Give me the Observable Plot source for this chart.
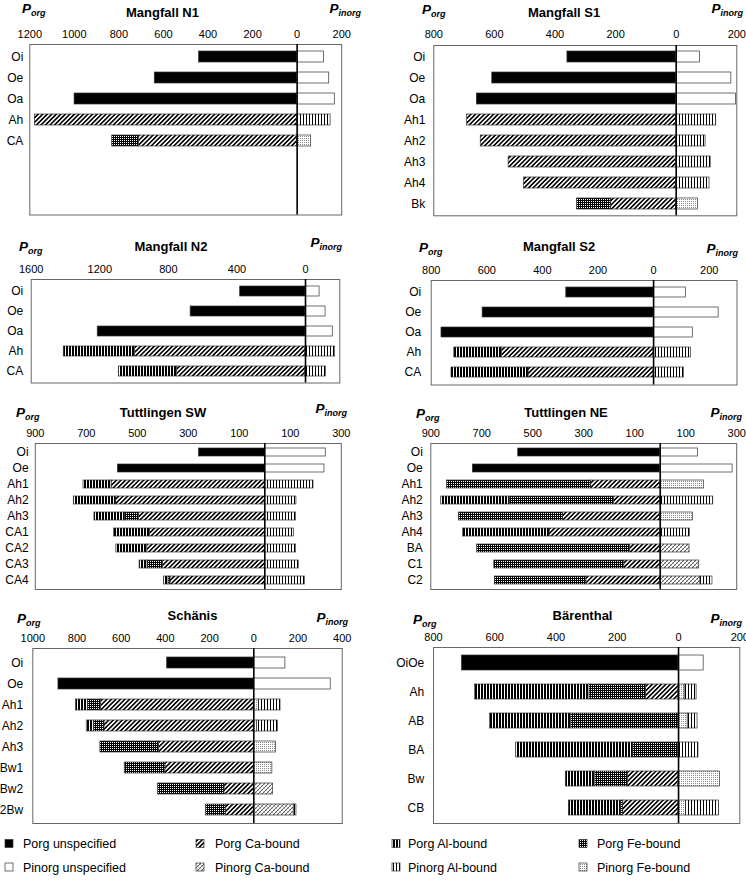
<!DOCTYPE html>
<html><head><meta charset="utf-8">
<script src="https://cdn.jsdelivr.net/npm/d3@7"></script>
<script src="https://cdn.jsdelivr.net/npm/@observablehq/plot@0.6"></script>
<style>
html,body{margin:0;padding:0;background:#fff;}
#page{position:relative;width:746px;height:883px;overflow:hidden;font-family:"Liberation Sans",Arial,sans-serif;}
#page svg{position:absolute;}
#page g[aria-label^="x-axis"] text{font-size:11px;}
#page g[aria-label^="y-axis"] text{font-size:12px;}
</style></head><body><div id="page"></div>
<script>
// ---------------- DATA ----------------
// Mangfall N1
const n1Horizons = ["Oi","Oe","Oa","Ah","CA"];
const n1Ticks = [-1200,-1000,-800,-600,-400,-200,0,200];
const n1PorgUnspecified = [440,639,999,0,0];
const n1PorgCa = [0,0,0,1177,711];
const n1PorgFe = [0,0,0,0,119];
const n1PorgAl = [0,0,0,0,0];
const n1PinorgUnspecified = [120,144,169,0,0];
const n1PinorgCa = [0,0,0,0,0];
const n1PinorgFe = [0,0,0,0,63];
const n1PinorgAl = [0,0,0,150,0];

// Mangfall S1
const s1Horizons = ["Oi","Oe","Oa","Ah1","Ah2","Ah3","Ah4","Bk"];
const s1Ticks = [-800,-600,-400,-200,0,200];
const s1PorgUnspecified = [359,607,658,0,0,0,0,0];
const s1PorgCa = [0,0,0,690,645,553,502,215];
const s1PorgFe = [0,0,0,0,0,0,0,112];
const s1PorgAl = [0,0,0,0,0,0,0,0];
const s1PinorgUnspecified = [79,182,197,0,0,0,0,0];
const s1PinorgCa = [0,0,0,0,0,0,0,0];
const s1PinorgFe = [0,0,0,0,0,0,0,72];
const s1PinorgAl = [0,0,0,132,97,114,110,0];

// Mangfall N2
const n2Horizons = ["Oi","Oe","Oa","Ah","CA"];
const n2Ticks = [-1600,-1200,-800,-400,0];
const n2PorgUnspecified = [381,670,1212,0,0];
const n2PorgCa = [0,0,0,994,750];
const n2PorgFe = [0,0,0,0,0];
const n2PorgAl = [0,0,0,416,339];
const n2PinorgUnspecified = [82,117,159,0,0];
const n2PinorgCa = [0,0,0,0,0];
const n2PinorgFe = [0,0,0,0,0];
const n2PinorgAl = [0,0,0,173,120];

// Mangfall S2
const s2Horizons = ["Oi","Oe","Oa","Ah","CA"];
const s2Ticks = [-800,-600,-400,-200,0,200];
const s2PorgUnspecified = [314,615,763,0,0];
const s2PorgCa = [0,0,0,546,450];
const s2PorgFe = [0,0,0,0,0];
const s2PorgAl = [0,0,0,171,277];
const s2PinorgUnspecified = [116,234,141,0,0];
const s2PinorgCa = [0,0,0,0,0];
const s2PinorgFe = [0,0,0,0,0];
const s2PinorgAl = [0,0,0,135,109];

// Tuttlingen SW
const swHorizons = ["Oi","Oe","Ah1","Ah2","Ah3","CA1","CA2","CA3","CA4"];
const swTicks = [-900,-700,-500,-300,-100,100,300];
const swPorgUnspecified = [258,576,0,0,0,0,0,0,0];
const swPorgCa = [0,0,601,583,493,451,461,400,370];
const swPorgFe = [0,0,0,0,56,0,0,60,8];
const swPorgAl = [0,0,110,166,119,141,121,31,17];
const swPinorgUnspecified = [239,234,0,0,0,0,0,0,0];
const swPinorgCa = [0,0,0,0,0,0,0,0,0];
const swPinorgFe = [0,0,0,0,0,0,0,0,0];
const swPinorgAl = [0,0,191,124,122,115,123,133,157];

// Tuttlingen NE
const neHorizons = ["Oi","Oe","Ah1","Ah2","Ah3","Ah4","BA","C1","C2"];
const neTicks = [-900,-700,-500,-300,-100,100,300];
const nePorgUnspecified = [557,735,0,0,0,0,0,0,0];
const nePorgCa = [0,0,271,181,382,434,118,141,290];
const nePorgFe = [0,0,565,410,408,0,600,510,359];
const nePorgAl = [0,0,0,268,0,340,0,0,0];
const nePinorgUnspecified = [148,284,0,0,0,0,0,0,0];
const nePinorgCa = [0,0,0,0,0,0,115,153,158];
const nePinorgFe = [0,0,171,0,128,0,0,0,0];
const nePinorgAl = [0,0,0,208,0,116,0,0,47];

// Schänis
const scHorizons = ["Oi","Oe","Ah1","Ah2","Ah3","Bw1","Bw2","2Bw"];
const scTicks = [-1000,-800,-600,-400,-200,0,200,400];
const scPorgUnspecified = [392,884,0,0,0,0,0,0];
const scPorgCa = [0,0,691,676,430,400,133,127];
const scPorgFe = [0,0,60,48,264,184,300,89];
const scPorgAl = [0,0,53,32,0,0,0,0];
const scPinorgUnspecified = [143,348,0,0,0,0,0,0];
const scPinorgCa = [0,0,0,0,0,0,87,181];
const scPinorgFe = [0,0,23,15,100,84,0,0];
const scPinorgAl = [0,0,98,95,0,0,0,12];

// Bärenthal
const baHorizons = ["OiOe","Ah","AB","BA","Bw","CB"];
const baTicks = [-800,-600,-400,-200,0,200];
const baPorgUnspecified = [707,0,0,0,0,0];
const baPorgCa = [0,106,0,0,166,182];
const baPorgFe = [0,185,351,148,106,6];
const baPorgAl = [0,374,265,382,96,170];
const baPinorgUnspecified = [82,0,0,0,0,0];
const baPinorgCa = [0,0,0,0,0,0];
const baPinorgFe = [0,20,30,0,135,24];
const baPinorgAl = [0,39,32,65,0,108];

const legendLabels = [
  ["Porg unspecified","Porg Ca-bound","Porg Al-bound","Porg Fe-bound"],
  ["Pinorg unspecified","Pinorg Ca-bound","Pinorg Al-bound","Pinorg Fe-bound"]
];

// ---------------- STYLE / LAYOUT ----------------
const FILLS = {
  PorgUnspecified: "black", PorgCa: "url(#pCa)", PorgFe: "url(#pFe)", PorgAl: "url(#pAl)",
  PinorgUnspecified: "white", PinorgCa: "url(#iCa)", PinorgFe: "url(#iFe)", PinorgAl: "url(#iAl)"
};
const COMPONENTS = [
  ["PorgUnspecified",-1],["PorgCa",-1],["PorgFe",-1],["PorgAl",-1],
  ["PinorgUnspecified",1],["PinorgCa",1],["PinorgFe",1],["PinorgAl",1]
];
const legendFills = [
  [FILLS.PorgUnspecified, FILLS.PorgCa, FILLS.PorgAl, FILLS.PorgFe],
  [FILLS.PinorgUnspecified, FILLS.PinorgCa, FILLS.PinorgAl, FILLS.PinorgFe]
];

function vals(p){ return {
  PorgUnspecified: p[0], PorgCa: p[1], PorgFe: p[2], PorgAl: p[3],
  PinorgUnspecified: p[4], PinorgCa: p[5], PinorgFe: p[6], PinorgAl: p[7] }; }

const panels = [
  {title:"Mangfall N1", horizons:n1Horizons, ticks:n1Ticks, domain:[-1200,200], slots:8,
   values: vals([n1PorgUnspecified,n1PorgCa,n1PorgFe,n1PorgAl,n1PinorgUnspecified,n1PinorgCa,n1PinorgFe,n1PinorgAl]),
   L:{svgLeft:0,x0:29.3,x1:341.2,y0:44.3,y1:214.8,yPad:6.5}, H:{px:22,py:13.3,ix:361,iy:13.3,tx:162.5,ty:16.7}},
  {title:"Mangfall S1", horizons:s1Horizons, ticks:s1Ticks, domain:[-800,200], slots:8,
   values: vals([s1PorgUnspecified,s1PorgCa,s1PorgFe,s1PorgAl,s1PinorgUnspecified,s1PinorgCa,s1PinorgFe,s1PinorgAl]),
   L:{svgLeft:373,x0:433.3,x1:736.3,y0:44.5,y1:214.8,yPad:8.5}, H:{px:422,py:14,ix:743,iy:13.3,tx:564,ty:17.3}},
  {title:"Mangfall N2", horizons:n2Horizons, ticks:n2Ticks, domain:[-1600,200], slots:5,
   values: vals([n2PorgUnspecified,n2PorgCa,n2PorgFe,n2PorgAl,n2PinorgUnspecified,n2PinorgCa,n2PinorgFe,n2PinorgAl]),
   L:{svgLeft:0,x0:30.7,x1:339.3,y0:278.5,y1:382,yPad:8}, H:{px:19,py:250.7,ix:342,iy:246.7,tx:171,ty:250.7}},
  {title:"Mangfall S2", horizons:s2Horizons, ticks:s2Ticks, domain:[-800,300], slots:5,
   values: vals([s2PorgUnspecified,s2PorgCa,s2PorgFe,s2PorgAl,s2PinorgUnspecified,s2PinorgCa,s2PinorgFe,s2PinorgAl]),
   L:{svgLeft:373,x0:430.7,x1:736.5,y0:279.5,y1:384,yPad:10}, H:{px:419,py:251.7,ix:738,iy:252.7,tx:559,ty:250.7}},
  {title:"Tuttlingen SW", horizons:swHorizons, ticks:swTicks, domain:[-900,300], slots:9,
   values: vals([swPorgUnspecified,swPorgCa,swPorgFe,swPorgAl,swPinorgUnspecified,swPinorgCa,swPinorgFe,swPinorgAl]),
   L:{svgLeft:0,x0:34.8,x1:340.8,y0:443,y1:589,yPad:6.7}, H:{px:16,py:416.7,ix:347,iy:413.3,tx:163,ty:416.7}},
  {title:"Tuttlingen NE", horizons:neHorizons, ticks:neTicks, domain:[-900,300], slots:9,
   values: vals([nePorgUnspecified,nePorgCa,nePorgFe,nePorgAl,nePinorgUnspecified,nePinorgCa,nePinorgFe,nePinorgAl]),
   L:{svgLeft:373,x0:430.3,x1:736.2,y0:443,y1:589,yPad:8}, H:{px:416,py:417.7,ix:742,iy:416.7,tx:566,ty:416.7}},
  {title:"Schänis", horizons:scHorizons, ticks:scTicks, domain:[-1000,400], slots:8,
   values: vals([scPorgUnspecified,scPorgCa,scPorgFe,scPorgAl,scPinorgUnspecified,scPinorgCa,scPinorgFe,scPinorgAl]),
   L:{svgLeft:0,x0:32.3,x1:341.7,y0:647.7,y1:822.7,yPad:9.6}, H:{px:17,py:623.3,ix:348,iy:621.7,tx:192.5,ty:620}},
  {title:"Bärenthal", horizons:baHorizons, ticks:baTicks, domain:[-800,200], slots:6,
   values: vals([baPorgUnspecified,baPorgCa,baPorgFe,baPorgAl,baPinorgUnspecified,baPinorgCa,baPinorgFe,baPinorgAl]),
   L:{svgLeft:373,x0:433,x1:739.3,y0:647,y1:823,yPad:9.3}, H:{px:413,py:624,ix:742,iy:623.3,tx:582.5,ty:620}}
];

// ---------------- OVERLAY (patterns, headers, legend) ----------------
const page = document.getElementById("page");
const overlay = d3.select(page).append("svg")
  .attr("width",746).attr("height",883).style("left","0px").style("top","0px")
  .attr("font-family",'"Liberation Sans",Arial,sans-serif');
const defs = overlay.append("defs");
function pat(id,w,h,tr){ const p = defs.append("pattern").attr("id",id)
  .attr("patternUnits","userSpaceOnUse").attr("width",w).attr("height",h);
  if (tr) p.attr("patternTransform",tr); return p; }
let p;
p = pat("pCa",3.2,3.2,"rotate(45)");
p.append("rect").attr("width",3.2).attr("height",3.2).attr("fill","white");
p.append("rect").attr("width",1.6).attr("height",3.2).attr("fill","black");
p = pat("pAl",3,3);
p.append("rect").attr("width",3).attr("height",3).attr("fill","white");
p.append("rect").attr("width",2).attr("height",3).attr("fill","black");
p = pat("pFe",2,2);
p.append("rect").attr("width",2).attr("height",2).attr("fill","black");
p.append("rect").attr("width",1).attr("height",1).attr("fill","white");
p = pat("iCa",4,4);
p.append("rect").attr("width",4).attr("height",4).attr("fill","white");
p.append("path").attr("d","M0,4L4,0M-1,1L1,-1M3,5L5,3").attr("stroke","#333").attr("stroke-width",0.8);
p.append("path").attr("d","M0,0L4,4M-1,3L1,5M3,-1L5,1").attr("stroke","#999").attr("stroke-width",0.6);
p = pat("iAl",3,3);
p.append("rect").attr("width",3).attr("height",3).attr("fill","white");
p.append("rect").attr("width",1).attr("height",3).attr("fill","black");
p = pat("iFe",2,2);
p.append("rect").attr("width",2).attr("height",2).attr("fill","white");
p.append("rect").attr("width",1).attr("height",1).attr("fill","#888");

for (const P of panels) {
  const H = P.H;
  const t1 = overlay.append("text").attr("x",H.px).attr("y",H.py)
    .attr("font-weight","bold").attr("font-style","italic").attr("font-size",13.5).text("P");
  t1.append("tspan").attr("font-size",9).attr("dy",3).text("org");
  const t2 = overlay.append("text").attr("x",H.ix).attr("y",H.iy).attr("text-anchor","end")
    .attr("font-weight","bold").attr("font-style","italic").attr("font-size",13.5).text("P");
  t2.append("tspan").attr("font-size",9).attr("dy",3).text("inorg");
  overlay.append("text").attr("x",H.tx).attr("y",H.ty).attr("text-anchor","middle")
    .attr("font-weight","bold").attr("font-size",13).text(P.title);
}

const legSwX = [5,196,392,579], legTxX = [23,215,408,597], legY = [843.5,867];
legendLabels.forEach((row,r) => row.forEach((lab,c) => {
  overlay.append("rect").attr("x",legSwX[c]).attr("y",legY[r]-4).attr("width",8).attr("height",8)
    .attr("fill",legendFills[r][c]).attr("stroke","#333").attr("stroke-width",0.7);
  overlay.append("text").attr("x",legTxX[c]).attr("y",legY[r]+4.5).attr("font-size",12.5).text(lab);
}));

// ---------------- PANELS (Observable Plot) ----------------
for (const P of panels) {
  const L = P.L;
  const data = [];
  P.horizons.forEach((h,i) => COMPONENTS.forEach(([key,sign]) => {
    const v = P.values[key][i];
    if (v > 0) data.push({horizon:h, value:sign*v, fill:FILLS[key]});
  }));
  const domainY = P.horizons.slice();
  for (let k = P.horizons.length; k < P.slots; k++) domainY.push("__"+k);
  const mt = 24;
  const chart = Plot.plot({
    width: 373,
    height: mt + (L.y1 - L.y0) + 2,
    marginLeft: L.x0 - L.svgLeft,
    marginRight: L.svgLeft + 373 - L.x1,
    marginTop: mt, marginBottom: 2,
    style: {background:"transparent", overflow:"visible", fontFamily:'"Liberation Sans",Arial,sans-serif', fontSize:"12px", color:"black"},
    x: {domain:P.domain, ticks:P.ticks, tickFormat:d => String(Math.abs(d)), axis:"top", tickSize:0, tickPadding:7, label:null},
    y: {domain:domainY, paddingInner:0.5, paddingOuter:0.25, tickSize:0, tickPadding:L.yPad, label:null,
        tickFormat:d => String(d).startsWith("__") ? "" : d},
    color: {type:"identity"},
    marks: [
      Plot.frame({stroke:"#666", strokeWidth:1}),
      Plot.barX(data, {x:"value", y:"horizon", fill:"fill", stroke:"#333", strokeWidth:0.7}),
      Plot.ruleX([0], {stroke:"black", strokeWidth:1.6})
    ]
  });
  chart.style.position = "absolute";
  chart.style.left = L.svgLeft + "px";
  chart.style.top = (L.y0 - mt) + "px";
  page.appendChild(chart);
}
</script></body></html>
